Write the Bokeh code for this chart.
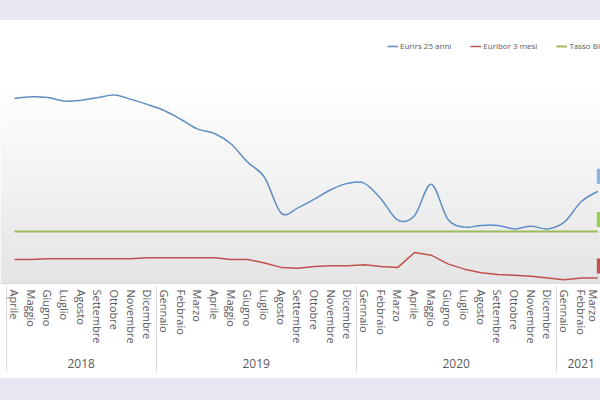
import numpy as np
from bokeh.plotting import figure
from bokeh.models import (Range1d, FixedTicker, LinearAxis, Legend, LegendItem,
                          BoxAnnotation, Label, Div)
from bokeh.layouts import column
from bokeh.embed import file_html
from bokeh.resources import INLINE

# ---------------- data ----------------
months = ["Aprile", "Maggio", "Giugno", "Luglio", "Agosto", "Settembre", "Ottobre", "Novembre", "Dicembre",
          "Gennaio", "Febbraio", "Marzo", "Aprile", "Maggio", "Giugno", "Luglio", "Agosto", "Settembre",
          "Ottobre", "Novembre", "Dicembre",
          "Gennaio", "Febbraio", "Marzo", "Aprile", "Maggio", "Giugno", "Luglio", "Agosto", "Settembre",
          "Ottobre", "Novembre", "Dicembre",
          "Gennaio", "Febbraio", "Marzo"]
years = ["2018", "2018", "2018", "2018", "2018", "2018", "2018", "2018", "2018",
         "2019", "2019", "2019", "2019", "2019", "2019", "2019", "2019", "2019", "2019", "2019", "2019",
         "2020", "2020", "2020", "2020", "2020", "2020", "2020", "2020", "2020", "2020", "2020", "2020",
         "2021", "2021", "2021"]
eurirs_25 = [1.52, 1.54, 1.53, 1.49, 1.50, 1.53, 1.56, 1.51, 1.45,
             1.38, 1.28, 1.17, 1.12, 1.00, 0.79, 0.62, 0.21, 0.27, 0.37, 0.48, 0.55,
             0.55, 0.37, 0.13, 0.18, 0.54, 0.14, 0.05, 0.07, 0.07, 0.03, 0.06, 0.03,
             0.11, 0.34, 0.46]
euribor_3m = [-0.32, -0.32, -0.31, -0.31, -0.31, -0.31, -0.31, -0.31, -0.30,
              -0.30, -0.30, -0.30, -0.30, -0.32, -0.32, -0.36, -0.41, -0.42, -0.40, -0.39, -0.39,
              -0.38, -0.40, -0.41, -0.24, -0.27, -0.37, -0.43, -0.47, -0.49, -0.50, -0.51, -0.53,
              -0.55, -0.53, -0.53]
tasso_bce = [0.00, 0.00, 0.00, 0.00, 0.00, 0.00, 0.00, 0.00, 0.00,
             0.00, 0.00, 0.00, 0.00, 0.00, 0.00, 0.00, 0.00, 0.00, 0.00, 0.00, 0.00,
             0.00, 0.00, 0.00, 0.00, 0.00, 0.00, 0.00, 0.00, 0.00, 0.00, 0.00, 0.00,
             0.00, 0.00, 0.00]
series_names = ["Eurirs 25 anni", "Euribor 3 mesi", "Tasso BCE"]

# ---------------- style ----------------
BLUE = "#5e8dc4"
RED = "#c0504d"
GREEN = "#9bbb59"
TXT = "#595959"
LAV = "#e6e7f2"
FONT = "Open Sans"

n = len(months)
xs = np.arange(n)
Y0, Y1 = -0.594, 2.411

p = figure(width=600, height=358, output_backend="svg", toolbar_location=None,
           x_range=Range1d(-0.84, 35.16), y_range=Range1d(Y0, Y1),
           y_axis_location=None, min_border_left=0, min_border_right=0,
           min_border_top=0, min_border_bottom=95)
p.outline_line_color = None
p.background_fill_color = "white"
p.border_fill_color = "white"
p.xgrid.visible = False
p.ygrid.visible = False

# gradient plot-area background (white -> light grey)
NB = 60
for k in range(NB):
    top = Y1 - (Y1 - Y0) * k / NB
    bot = Y1 - (Y1 - Y0) * (k + 1.3) / NB
    t = (k + 0.5) / NB
    s = min(max((t - 0.25) / 0.75, 0.0), 1.0)
    g = int(round(255 - 27 * s))
    p.add_layout(BoxAnnotation(top=top, bottom=bot, fill_color=f"#{g:02x}{g:02x}{g:02x}",
                               fill_alpha=1.0, line_alpha=0, level="underlay"))

# month axis (the figure's own bottom axis)
xa = p.xaxis[0]
xa.ticker = FixedTicker(ticks=list(range(n)), minor_ticks=[])
xa.major_label_overrides = {i: m for i, m in enumerate(months)}
xa.major_label_orientation = "vertical"
xa.major_label_text_font = FONT
xa.major_label_text_font_size = "11px"
xa.major_label_text_color = TXT
xa.major_label_standoff = 6
xa.major_tick_out = 0
xa.major_tick_in = 0
xa.minor_tick_line_color = None
xa.axis_line_color = "#d9d9d9"

# year axis, its minor ticks are the year separators
sep = [-0.5] + [i + 0.5 for i in range(n - 1) if years[i] != years[i + 1]]
year_names = []
year_centers = []
for yv in years:
    if yv not in year_names:
        year_names.append(yv)
for yv in year_names:
    idx = [i for i, v in enumerate(years) if v == yv]
    year_centers.append((idx[0] + idx[-1]) / 2)
ya = LinearAxis(ticker=FixedTicker(ticks=year_centers, minor_ticks=sep),
                major_label_overrides={c: yv for c, yv in zip(year_centers, year_names)})
ya.axis_line_color = None
ya.major_tick_line_color = None
ya.major_tick_in = 0
ya.major_tick_out = 0
ya.minor_tick_line_color = "#d9d9d9"
ya.minor_tick_in = 60
ya.minor_tick_out = 25
ya.major_label_text_font = FONT
ya.major_label_text_font_size = "12px"
ya.major_label_text_color = TXT
ya.major_label_standoff = -13
p.add_layout(ya, "below")

# smoothed blue line (Excel "smoothed line" style) drawn as bezier segments
yb = np.array(eurirs_25)
def clampi(i):
    return min(max(i, 0), n - 1)
x0 = xs[:-1]; x1 = xs[1:]
y0 = yb[:-1]; y1 = yb[1:]
im1 = [clampi(i - 1) for i in range(n - 1)]
ip2 = [clampi(i + 2) for i in range(n - 1)]
cx0 = x0 + (x1 - xs[im1]) / 6.0
cy0 = y0 + (y1 - yb[im1]) / 6.0
cx1 = x1 - (xs[ip2] - x0) / 6.0
cy1 = y1 - (yb[ip2] - y0) / 6.0
r_blue = p.bezier(x0=x0, y0=y0, x1=x1, y1=y1, cx0=cx0, cy0=cy0, cx1=cx1, cy1=cy1,
                  line_color=BLUE, line_width=1.5)
r_red = p.line(xs, euribor_3m, line_color=RED, line_width=1.5)
r_green = p.line(xs, tasso_bce, line_color=GREEN, line_width=2)

legend = Legend(items=[LegendItem(label=series_names[0], renderers=[r_blue]),
                       LegendItem(label=series_names[1], renderers=[r_red]),
                       LegendItem(label=series_names[2], renderers=[r_green])],
                orientation="horizontal", location=(387, 232),
                glyph_width=11, glyph_height=10, label_height=10, label_standoff=2,
                spacing=19, padding=0, margin=0,
                border_line_alpha=0, background_fill_alpha=0,
                label_text_font=FONT, label_text_font_size="8px", label_text_color=TXT)
p.add_layout(legend)

# data labels of the last point
for vals, col, yoff in [(eurirs_25, "#8db3e2", 15), (tasso_bce, "#92d050", 12), (euribor_3m, "#c0504d", 12)]:
    v = vals[-1]
    p.add_layout(Label(x=n - 1, y=v, text=f"{v:.2f}".replace(".", ","), x_offset=-1, y_offset=yoff,
                       text_align="left", text_baseline="middle", text_color="white",
                       text_font=FONT, text_font_size="12px",
                       background_fill_color=col, padding=3))

top_band = Div(text="", width=600, height=20, margin=(0, 0, 0, 0),
               styles={"background-color": LAV})
bottom_band = Div(text="", width=600, height=22, margin=(0, 0, 0, 0),
                  styles={"background-color": LAV})
layout = column(top_band, p, bottom_band, spacing=0)

open("out.html", "w").write(file_html(layout, INLINE))
